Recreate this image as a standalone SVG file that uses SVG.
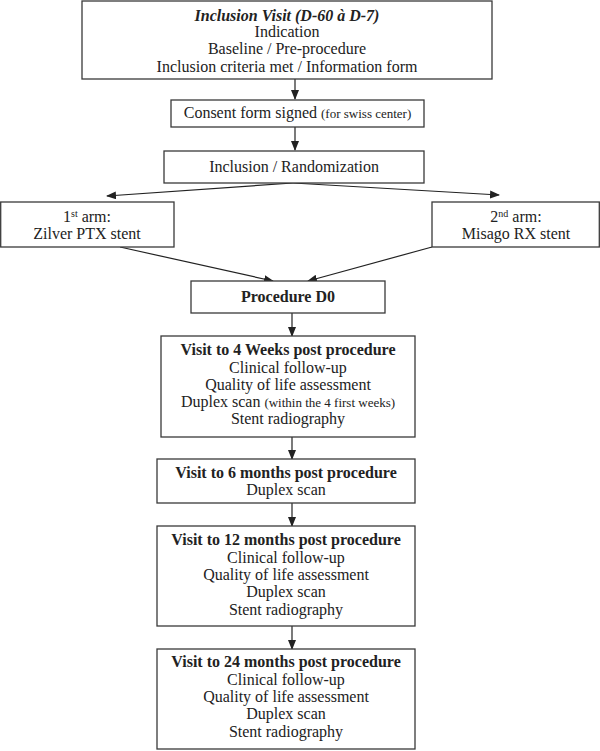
<svg xmlns="http://www.w3.org/2000/svg" width="600" height="751" viewBox="0 0 600 751">
<style>
.box{fill:#fff;stroke:#3a3a3a;stroke-width:1.3}
.t{font-family:"Liberation Serif","Times New Roman",serif;font-size:16px;fill:#222;text-anchor:middle}
.b{font-weight:bold}
.s{font-size:13px}
.sup{font-size:10px}
.c{stroke:#222;stroke-width:1.2;fill:none;marker-end:url(#ah)}
</style>
<defs>
<marker id="ah" markerUnits="userSpaceOnUse" markerWidth="10" markerHeight="8" refX="9" refY="4" orient="auto">
<path d="M0,0 L10,4 L0,8 Z" fill="#222"/>
</marker>
</defs>
<rect width="600" height="751" fill="#fff"/>
<g id="connectors">
<line class="c" x1="295" y1="79" x2="295" y2="99"/>
<line class="c" x1="295" y1="127" x2="295" y2="150"/>
<line class="c" x1="293" y1="183" x2="107" y2="196"/>
<line class="c" x1="293" y1="183" x2="499" y2="195"/>
<line class="c" x1="120" y1="247" x2="273" y2="281"/>
<line class="c" x1="432" y1="247" x2="308" y2="281"/>
<line class="c" x1="292" y1="313" x2="292" y2="336"/>
<line class="c" x1="292" y1="437" x2="292" y2="459"/>
<line class="c" x1="292" y1="503" x2="292" y2="526"/>
<line class="c" x1="292" y1="626" x2="292" y2="649"/>
</g>
<g id="inclusion-visit">
<rect class="box" x="82" y="1" width="410" height="78"/>
<text class="t b" x="287" y="21" font-style="italic">Inclusion Visit (D-60 à D-7)</text>
<text class="t" x="287" y="37">Indication</text>
<text class="t" x="287" y="54">Baseline / Pre-procedure</text>
<text class="t" x="287" y="72">Inclusion criteria met / Information form</text>
</g>
<g id="consent">
<rect class="box" x="171" y="100" width="253" height="27"/>
<text class="t" x="297.5" y="118">Consent form signed <tspan class="s">(for swiss center)</tspan></text>
</g>
<g id="randomization">
<rect class="box" x="164" y="151" width="260" height="32"/>
<text class="t" x="294" y="172">Inclusion / Randomization</text>
</g>
<g id="arm1">
<rect class="box" x="0.7" y="202" width="173.3" height="45"/>
<text class="t" x="87" y="222">1<tspan class="sup" dy="-5">st</tspan><tspan dy="5"> arm:</tspan></text>
<text class="t" x="87" y="239">Zilver PTX stent</text>
</g>
<g id="arm2">
<rect class="box" x="432" y="202" width="167.3" height="45"/>
<text class="t" x="516" y="222">2<tspan class="sup" dy="-5">nd</tspan><tspan dy="5"> arm:</tspan></text>
<text class="t" x="516" y="239">Misago RX stent</text>
</g>
<g id="procedure">
<rect class="box" x="191" y="281" width="194" height="32"/>
<text class="t b" x="288" y="302">Procedure D0</text>
</g>
<g id="visit-4w">
<rect class="box" x="161" y="336" width="254" height="101"/>
<text class="t b" x="288" y="355">Visit to 4 Weeks post procedure</text>
<text class="t" x="288" y="373">Clinical follow-up</text>
<text class="t" x="288" y="390">Quality of life assessment</text>
<text class="t" x="288" y="407">Duplex scan <tspan class="s">(within  the 4 first weeks)</tspan></text>
<text class="t" x="288" y="424">Stent radiography</text>
</g>
<g id="visit-6m">
<rect class="box" x="157" y="459" width="258" height="44"/>
<text class="t b" x="286" y="478">Visit to 6 months post procedure</text>
<text class="t" x="286" y="495">Duplex scan</text>
</g>
<g id="visit-12m">
<rect class="box" x="157" y="526" width="258" height="100"/>
<text class="t b" x="286" y="545">Visit to 12 months post procedure</text>
<text class="t" x="286" y="563">Clinical follow-up</text>
<text class="t" x="286" y="580">Quality of life assessment</text>
<text class="t" x="286" y="597">Duplex scan</text>
<text class="t" x="286" y="615">Stent radiography</text>
</g>
<g id="visit-24m">
<rect class="box" x="157" y="649" width="258" height="100"/>
<text class="t b" x="286" y="667">Visit to 24 months post procedure</text>
<text class="t" x="286" y="685">Clinical follow-up</text>
<text class="t" x="286" y="702">Quality of life assessment</text>
<text class="t" x="286" y="719">Duplex scan</text>
<text class="t" x="286" y="737">Stent radiography</text>
</g>
</svg>
